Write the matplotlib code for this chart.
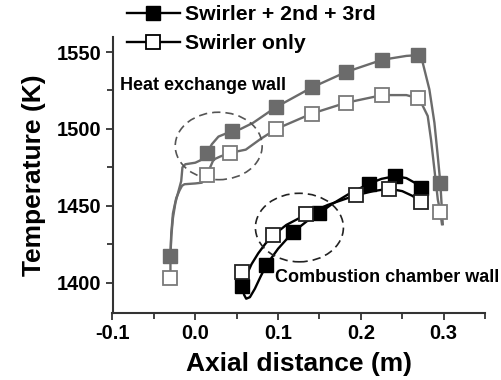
import matplotlib
matplotlib.use("Agg")
import matplotlib.pyplot as plt
from matplotlib.patches import Ellipse
from matplotlib.lines import Line2D
from matplotlib.ticker import MultipleLocator

plt.rcParams['font.family'] = ['Liberation Sans', 'DejaVu Sans']
plt.rcParams['font.weight'] = 'bold'

# Heat exchange wall - Swirler + 2nd + 3rd (markers)
hx_full_x = [-0.030, 0.014, 0.044, 0.097, 0.141, 0.182, 0.226, 0.269, 0.296]
hx_full_y = [1417, 1484, 1498.5, 1514, 1527, 1537, 1545, 1548, 1465]
# Heat exchange wall - Swirler only (markers)
hx_only_x = [-0.030, 0.014, 0.042, 0.098, 0.141, 0.182, 0.226, 0.269, 0.296]
hx_only_y = [1403, 1470, 1484.4, 1500, 1510, 1517, 1522, 1520, 1446]

# Heat exchange wall curves
hx_full_cx = [-0.030, -0.029, -0.027, -0.024, -0.020, -0.017, -0.0155, -0.012, 0.000, 0.006, 0.014,
              0.020, 0.028, 0.044, 0.055, 0.070, 0.097, 0.141, 0.182, 0.226, 0.255, 0.269,
              0.2748, 0.2828, 0.2889, 0.293, 0.296, 0.299]
hx_full_cy = [1417, 1430, 1442, 1452, 1460, 1466, 1475, 1477, 1478, 1479.5, 1484,
              1490, 1495, 1498.5, 1500, 1504, 1514, 1527, 1537, 1545, 1547.5, 1548,
              1543, 1525.7, 1504, 1482, 1465, 1438]
hx_only_cx = [-0.030, -0.030, -0.029, -0.027, -0.023, -0.019, -0.016, -0.013, 0.000, 0.008, 0.014,
              0.022, 0.030, 0.042, 0.061, 0.079, 0.098, 0.141, 0.182, 0.226, 0.255, 0.269,
              0.2748, 0.2808, 0.2848, 0.2889, 0.293, 0.296, 0.298]
hx_only_cy = [1403, 1418, 1432, 1445, 1455, 1460, 1463, 1464, 1464.5, 1465, 1470,
              1480, 1482, 1484.4, 1486.5, 1493.5, 1500, 1510, 1517, 1522, 1522, 1520,
              1515, 1508.4, 1493, 1473.5, 1454, 1446, 1438]

# Combustion chamber wall - Swirler + 2nd + 3rd (markers)
cc_full_x = [0.057, 0.086, 0.118, 0.150, 0.210, 0.241, 0.273]
cc_full_y = [1397.5, 1411.5, 1432.8, 1445.2, 1464.4, 1469.2, 1461.6]
# Combustion chamber wall - Swirler only (markers)
cc_only_x = [0.057, 0.094, 0.134, 0.194, 0.234, 0.273]
cc_only_y = [1407, 1430.7, 1444.3, 1456.8, 1461.1, 1452.5]

# Combustion chamber wall curves
cc_full_cx = [0.057, 0.059, 0.0615, 0.066, 0.072, 0.079, 0.086, 0.100, 0.118, 0.135, 0.150,
              0.165, 0.185, 0.210, 0.225, 0.241, 0.255, 0.265, 0.273]
cc_full_cy = [1397.5, 1392, 1389.5, 1390.5, 1396, 1404, 1411.5, 1422, 1432.8, 1440, 1445.2,
              1451, 1457.5, 1464.4, 1467.5, 1469.2, 1468, 1465, 1461.6]
cc_only_cx = [0.058, 0.062, 0.068, 0.076, 0.085, 0.094, 0.110, 0.134, 0.160, 0.194, 0.215,
              0.234, 0.250, 0.262, 0.273]
cc_only_cy = [1400, 1405, 1412, 1419, 1425.5, 1430.7, 1437.5, 1444.3, 1450.5, 1456.8, 1459.5,
              1461.1, 1459.5, 1456.5, 1452.5]

x_ticks = [-0.1, 0.0, 0.1, 0.2, 0.3]
x_ticklabels = ['-0.1', '0.0', '0.1', '0.2', '0.3']
y_ticks = [1400, 1450, 1500, 1550]
y_ticklabels = ['1400', '1450', '1500', '1550']
legend_labels = ['Swirler + 2nd + 3rd', 'Swirler only']

GRAY = '#6b6b6b'
GRAY_EDGE = '#7a7a7a'

fig = plt.figure(figsize=(5.01, 3.80), dpi=100)
ax = fig.add_axes([112.5 / 501, 1 - 313.3 / 380, (485 - 112.5) / 501, (313.3 - 36.7) / 380])

lw = 1.7
ms = 9.5
ax.plot(hx_full_cx, hx_full_cy, color=GRAY, lw=lw, zorder=2)
ax.plot(hx_only_cx, hx_only_cy, color=GRAY, lw=lw, zorder=2)
ax.plot(cc_full_cx, cc_full_cy, color='black', lw=lw, zorder=2)
ax.plot(cc_only_cx, cc_only_cy, color='black', lw=lw, zorder=2)

ax.plot(hx_full_x, hx_full_y, ls='none', marker='s', ms=ms, mfc=GRAY, mec=GRAY, zorder=4)
ax.plot(hx_only_x, hx_only_y, ls='none', marker='s', ms=ms, mfc='white', mec=GRAY_EDGE, mew=1.3, zorder=4)
ax.plot(cc_full_x, cc_full_y, ls='none', marker='s', ms=ms, mfc='black', mec='black', zorder=5)
ax.plot(cc_only_x, cc_only_y, ls='none', marker='s', ms=ms, mfc='white', mec='#222222', mew=1.3, zorder=5)

ax.add_patch(Ellipse((0.0283, 1488.9), 0.105, 43.9, fill=False, ls=(0, (5, 3)), lw=1.2,
                     edgecolor='#555555', zorder=3))
ax.add_patch(Ellipse((0.1258, 1435.8), 0.1063, 44.6, fill=False, ls=(0, (5, 3)), lw=1.2,
                     edgecolor='#222222', zorder=3))

ax.text(-0.091, 1528.3, 'Heat exchange wall', fontsize=13, fontweight='bold', va='center', ha='left')
ax.text(0.0967, 1403, 'Combustion chamber wall', fontsize=13, fontweight='bold', va='center', ha='left')

ax.set_xlim(-0.1, 0.35)
ax.set_ylim(1380, 1560)
ax.set_xticks(x_ticks)
ax.set_xticklabels(x_ticklabels)
ax.set_yticks(y_ticks)
ax.set_yticklabels(y_ticklabels)
ax.xaxis.set_minor_locator(MultipleLocator(0.05))
ax.yaxis.set_minor_locator(MultipleLocator(25))
for s in ['top', 'right']:
    ax.spines[s].set_visible(False)
for s in ['left', 'bottom']:
    ax.spines[s].set_color('#333333')
    ax.spines[s].set_linewidth(1.5)
ax.tick_params(which='major', direction='out', length=5, width=1.3, color='#333333',
               labelsize=14.5, pad=3)
ax.tick_params(which='minor', direction='out', length=4, width=1.3, color='#333333')
for lab in ax.get_xticklabels() + ax.get_yticklabels():
    lab.set_fontweight('bold')

ax.set_xlabel('Axial distance (m)', fontsize=19, fontweight='bold', labelpad=6)
ax.set_ylabel('Temperature (K)', fontsize=19, fontweight='bold', labelpad=8)

handles = [
    Line2D([], [], color='black', lw=1.7, marker='s', ms=ms, mfc='black', mec='black'),
    Line2D([], [], color='black', lw=1.7, marker='s', ms=ms, mfc='white', mec='black', mew=1.3),
]
fig.legend(handles, legend_labels, loc='upper left', bbox_to_anchor=(126.7 / 501, 1 - 5 / 380),
           frameon=False, handlelength=2.5, handletextpad=0.25,
           labelspacing=0.47, borderpad=0, borderaxespad=0,
           prop={'weight': 'bold', 'size': 15.3})

fig.savefig('out.png', dpi=100, facecolor='white')
